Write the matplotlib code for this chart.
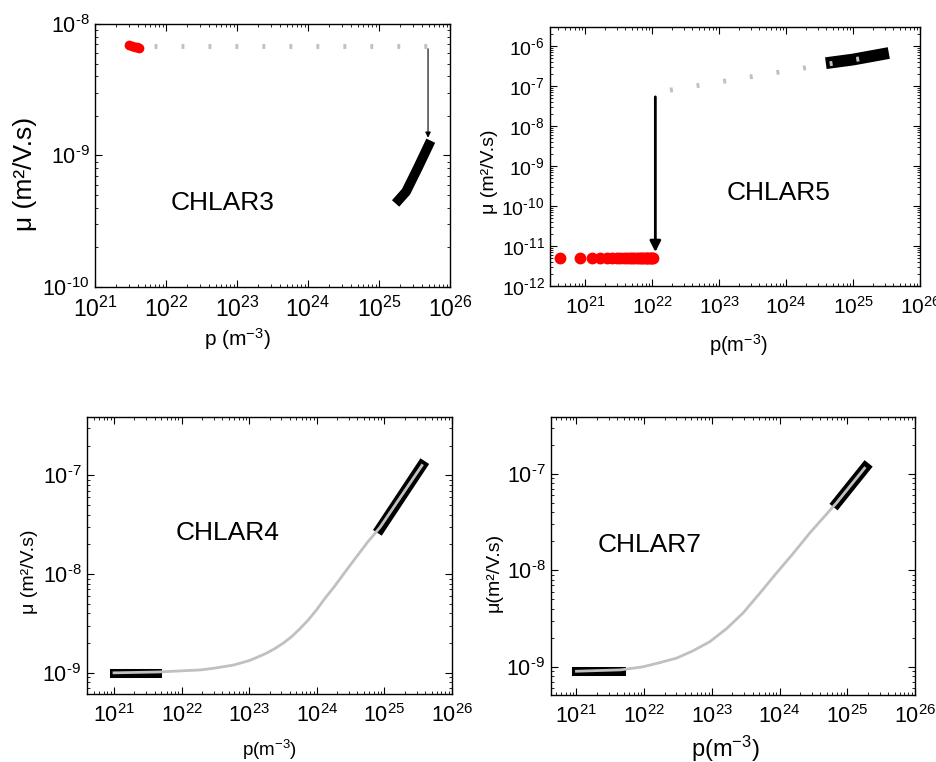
import numpy as np
import matplotlib
matplotlib.use("Agg")
import matplotlib.pyplot as plt
from matplotlib.ticker import LogLocator, FuncFormatter, NullFormatter

plt.rcParams['font.family'] = ['Liberation Sans', 'DejaVu Sans']
plt.rcParams['mathtext.default'] = 'regular'
plt.rcParams['axes.unicode_minus'] = False

GRAY = "#c0c0c0"

# ---- CHLAR3 ----
c3_red_p = [3.0e21, 3.3e21, 3.6e21, 3.9e21, 4.2e21]
c3_red_mu = [6.9e-9, 6.8e-9, 6.7e-9, 6.65e-9, 6.6e-9]
c3_fit_p = [6.8e21, 4.9e25]
c3_fit_mu = [6.8e-9, 6.8e-9]
c3_band_p = [1.9e25, 2.4e25, 3.5e25, 5.0e25]
c3_band_mu = [4.6e-10, 5.3e-10, 8.0e-10, 1.2e-9]
c3_arrow = (4.9e25, 6.8e-9, 1.3e-9)

# ---- CHLAR5 ----
c5_red_p = [4.3e20, 8.5e20, 1.27e21, 1.69e21, 2.11e21, 2.53e21, 2.95e21, 3.37e21,
            3.79e21, 4.21e21, 4.63e21, 5.05e21, 5.47e21, 5.89e21, 6.31e21, 6.73e21,
            7.15e21, 7.57e21, 7.99e21, 8.41e21, 8.83e21, 9.25e21, 9.67e21, 1.01e22, 1.05e22]
c5_red_mu = [5.0e-12] * len(c5_red_p)
c5_fit_p = [1.85e22, 2.5e25]
c5_fit_mu = [7.9e-8, 5.8e-7]
c5_band_p = [4.8e24, 1.0e25, 2.8e25]
c5_band_mu = [3.9e-7, 4.6e-7, 6.3e-7]
c5_arrow = (1.12e22, 6.3e-8, 6.0e-12)

# ---- CHLAR4 ----
c4_low_p = [1.0e21, 4.4e21]
c4_low_mu = [1.0e-9, 1.0e-9]
c4_high_p = [8.7e24, 3.6e25]
c4_high_mu = [2.9e-8, 1.26e-7]
c4_fit_p = [1.0e21, 4.5e21, 1.9e22, 3.2e22, 5.9e22, 1.0e23, 1.35e23, 1.8e23, 2.4e23,
            3.2e23, 4.3e23, 5.7e23, 7.6e23, 1.0e24, 1.3e24, 1.8e24, 3.2e24, 5.6e24,
            8.7e24, 3.6e25]
c4_fit_mu = [1.0e-9, 1.02e-9, 1.07e-9, 1.12e-9, 1.2e-9, 1.33e-9, 1.45e-9, 1.58e-9, 1.76e-9,
             2.0e-9, 2.34e-9, 2.82e-9, 3.47e-9, 4.37e-9, 5.6e-9, 7.4e-9, 1.26e-8, 2.09e-8,
             3.0e-8, 1.26e-7]

# ---- CHLAR7 ----
c7_low_p = [1.0e21, 4.5e21]
c7_low_mu = [9.1e-10, 9.1e-10]
c7_high_p = [7.0e24, 1.85e25]
c7_high_mu = [5.0e-8, 1.17e-7]
c7_fit_p = [1.0e21, 4.5e21, 9.6e21, 1.66e22, 3.0e22, 5.2e22, 9.3e22, 1.66e23, 2.9e23,
            5.0e23, 8.9e23, 1.6e24, 2.8e24, 6.9e24, 1.8e25]
c7_fit_mu = [9.0e-10, 9.3e-10, 1.0e-9, 1.1e-9, 1.23e-9, 1.46e-9, 1.82e-9, 2.5e-9, 3.63e-9,
             5.7e-9, 9.3e-9, 1.51e-8, 2.45e-8, 5.0e-8, 1.15e-7]


def sci_label(val, pos):
    e = int(round(np.log10(val)))
    exp = str(e).replace("-", "\u2010")
    return "$\\mathdefault{10^{%s}}$" % exp


def style_axes(ax, xlim, ylim, xfs, yfs):
    ax.set_xscale("log")
    ax.set_yscale("log")
    ax.set_xlim(*xlim)
    ax.set_ylim(*ylim)
    for axis in (ax.xaxis, ax.yaxis):
        axis.set_major_locator(LogLocator(base=10, numticks=30))
        axis.set_minor_locator(LogLocator(base=10, subs=np.arange(2, 10), numticks=30))
        axis.set_major_formatter(FuncFormatter(sci_label))
        axis.set_minor_formatter(NullFormatter())
    ax.tick_params(which="both", direction="in", top=True, right=True)
    ax.tick_params(which="major", length=5, width=0.8)
    ax.tick_params(which="minor", length=2.5, width=0.6)
    ax.tick_params(axis="x", which="major", pad=7, labelsize=xfs)
    ax.tick_params(axis="y", which="major", pad=4, labelsize=yfs)
    for s in ax.spines.values():
        s.set_linewidth(1.0)


fig = plt.figure(figsize=(9.37, 7.62), dpi=100)

# ---- top left: CHLAR3 ----
ax1 = fig.add_axes([0.1014, 0.6234, 0.3789, 0.3451])
style_axes(ax1, (1e21, 1e26), (1e-10, 1e-8), 16.5, 15.5)
ax1.plot(c3_fit_p, c3_fit_mu, color=GRAY, lw=3.5, dashes=(0.6, 4.95),
         dash_capstyle="butt", zorder=2)
ax1.plot(c3_red_p, c3_red_mu, 'o', color="red", ms=6, zorder=3)
ax1.plot(c3_band_p, c3_band_mu, color="black", lw=7, solid_capstyle="projecting", zorder=3)
ax1.annotate("", xy=(c3_arrow[0], c3_arrow[2]), xytext=(c3_arrow[0], c3_arrow[1]),
             arrowprops=dict(arrowstyle="-|>", color="black", lw=0.8, mutation_scale=8), zorder=4)
ax1.text(0.36, 0.32, "CHLAR3", transform=ax1.transAxes, fontsize=19, ha="center", va="center")
ax1.set_ylabel("μ (m²/V.s)", fontsize=19)
ax1.yaxis.set_label_coords(-0.163, 0.43)
ax1.set_xlabel("p (m$^{-3}$)", fontsize=15)
ax1.xaxis.set_label_coords(0.4, -0.15)

# ---- top right: CHLAR5 ----
ax2 = fig.add_axes([0.587, 0.6247, 0.3949, 0.3399])
style_axes(ax2, (3e20, 1e26), (1e-12, 3e-6), 15, 14)
ax2.plot(c5_band_p, c5_band_mu, color="black", lw=8.5, solid_capstyle="projecting", zorder=2)
ax2.plot(c5_fit_p, c5_fit_mu, color=GRAY, lw=3.5, dashes=(0.6, 4.95), dash_capstyle="butt", zorder=3)
ax2.plot(c5_red_p, c5_red_mu, 'o', color="red", ms=7.5, zorder=3)
ax2.annotate("", xy=(c5_arrow[0], c5_arrow[2]), xytext=(c5_arrow[0], c5_arrow[1]),
             arrowprops=dict(arrowstyle="-|>", color="black", lw=2, mutation_scale=16), zorder=4)
ax2.text(0.619, 0.359, "CHLAR5", transform=ax2.transAxes, fontsize=19, ha="center", va="center")
ax2.set_ylabel("μ (m²/V.s)", fontsize=14)
ax2.yaxis.set_label_coords(-0.14, 0.44)
ax2.set_xlabel("p(m$^{-3}$)", fontsize=14.5)
ax2.xaxis.set_label_coords(0.51, -0.18)

# ---- bottom left: CHLAR4 ----
ax3 = fig.add_axes([0.0928, 0.0892, 0.3895, 0.3635])
style_axes(ax3, (3.98e20, 1e26), (6.1e-10, 3.9e-7), 15.5, 15.5)
ax3.plot(c4_low_p, c4_low_mu, color="black", lw=6.5, solid_capstyle="projecting", zorder=2)
ax3.plot(c4_high_p, c4_high_mu, color="black", lw=7.5, solid_capstyle="projecting", zorder=2)
ax3.plot(c4_fit_p, c4_fit_mu, color=GRAY, lw=2, zorder=3)
ax3.text(0.386, 0.581, "CHLAR4", transform=ax3.transAxes, fontsize=19, ha="center", va="center")
ax3.set_ylabel("μ (m²/V.s)", fontsize=14)
ax3.yaxis.set_label_coords(-0.134, 0.44)
ax3.set_xlabel("p(m$^{-3}$)", fontsize=13.5)
ax3.xaxis.set_label_coords(0.5, -0.16)

# ---- bottom right: CHLAR7 ----
ax4 = fig.add_axes([0.588, 0.0879, 0.3885, 0.3648])
style_axes(ax4, (4.2e20, 1e26), (5.1e-10, 3.9e-7), 15.5, 15.5)
ax4.plot(c7_low_p, c7_low_mu, color="black", lw=6.5, solid_capstyle="projecting", zorder=2)
ax4.plot(c7_high_p, c7_high_mu, color="black", lw=7.5, solid_capstyle="projecting", zorder=2)
ax4.plot(c7_fit_p, c7_fit_mu, color=GRAY, lw=2, zorder=3)
ax4.text(0.272, 0.54, "CHLAR7", transform=ax4.transAxes, fontsize=19, ha="center", va="center")
ax4.set_ylabel("μ(m²/V.s)", fontsize=14)
ax4.yaxis.set_label_coords(-0.132, 0.44)
ax4.set_xlabel("p(m$^{-3}$)", fontsize=17)
ax4.xaxis.set_label_coords(0.48, -0.14)

fig.savefig("out.png", dpi=100)
